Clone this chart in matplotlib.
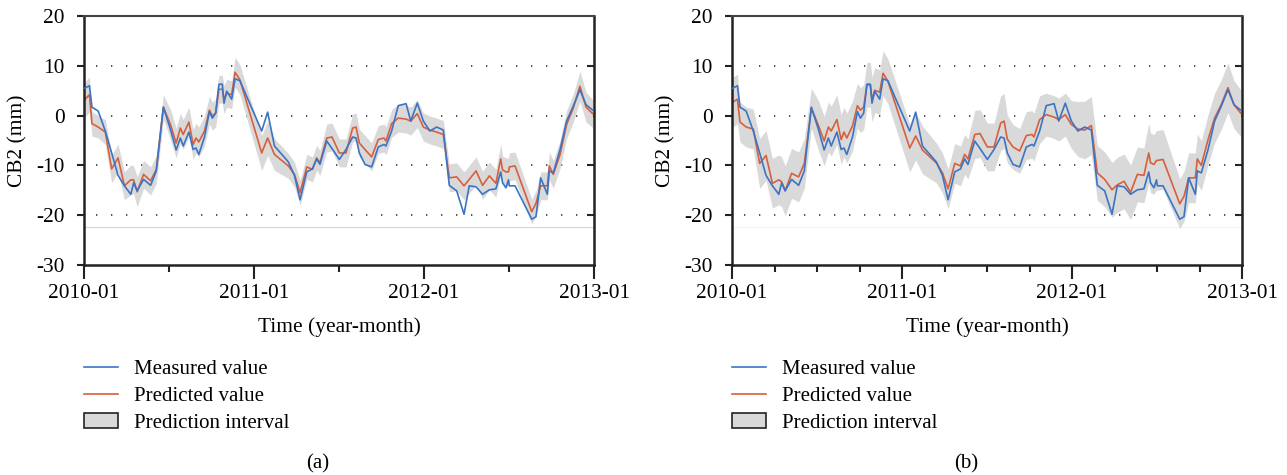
import matplotlib
matplotlib.use("Agg")
import matplotlib.pyplot as plt
from matplotlib.lines import Line2D
from matplotlib.patches import Patch
from matplotlib.ticker import MultipleLocator

plt.rcParams['font.family'] = ['Liberation Serif', 'DejaVu Serif']
plt.rcParams['axes.unicode_minus'] = False

# months since 2010-01
months = [0.05, 0.38, 0.56, 1.0, 1.5, 1.95, 2.4, 2.85, 3.3, 3.5,
          3.75, 4.2, 4.7, 5.1, 5.6, 6.1, 6.5, 6.8, 7.0, 7.4,
          7.7, 7.9, 8.1, 8.5, 8.85, 9.06, 9.29, 9.52, 9.76, 9.88,
          10.07, 10.42, 10.66, 11.0, 12.54, 12.96, 13.44, 14.42, 14.85, 15.25,
          15.72, 16.12, 16.42, 16.65, 17.13, 17.5, 18.02, 18.49, 18.96, 19.2,
          19.43, 19.83, 20.3, 20.77, 21.17, 21.31, 21.71, 22.18, 22.73, 23.06,
          23.52, 23.95, 24.41, 24.89, 25.36, 25.78, 26.3, 26.82, 27.19, 27.67,
          28.13, 28.61, 29.07, 29.41, 29.54, 29.78, 29.96, 30.02, 30.42, 31.6,
          31.9, 32.23, 32.7, 32.84, 33.12, 33.6, 34.06, 34.53, 35.0, 35.43,
          35.9]

measured = [5.5, 6.0, 1.7, 0.9, -3.1, -7.5, -12.0, -14.1, -15.8, -13.5,
            -15.1, -12.8, -14.0, -11.1, 1.7, -2.8, -6.9, -4.5, -6.1, -3.3,
            -6.8, -6.5, -7.8, -4.3, 0.8, -0.5, 0.5, 6.3, 6.3, 2.5,
            4.9, 3.3, 7.4, 7.0, -3.1, 0.7, -6.1, -9.3, -12.0, -16.9,
            -11.3, -10.7, -8.7, -9.8, -5.1, -6.6, -8.8, -6.8, -4.3, -4.5,
            -7.5, -9.8, -10.3, -6.3, -5.8, -6.1, -3.1, 2.0, 2.4, -1.1,
            2.5, -1.1, -3.1, -2.3, -2.9, -14.0, -15.1, -19.8, -14.1, -14.3,
            -15.8, -14.9, -14.7, -11.3, -13.5, -14.5, -12.9, -14.1, -14.1, -20.8,
            -20.3, -12.5, -15.8, -11.1, -11.5, -6.8, -1.1, 1.9, 5.2, 2.2,
            1.1]

predicted_a = [3.2, 4.2, -1.6, -2.3, -3.3, -10.7, -8.5, -14.1, -12.9, -12.9,
               -15.3, -11.8, -13.1, -10.8, 1.7, -1.8, -5.5, -2.5, -3.8, -1.3,
               -5.8, -4.5, -5.3, -3.1, 1.1, -0.1, 0.5, 5.3, 5.3, 3.2,
               4.5, 4.2, 8.7, 7.2, -7.5, -4.5, -7.8, -10.1, -11.8, -15.5,
               -10.3, -10.8, -8.5, -9.5, -4.5, -4.3, -7.5, -7.5, -2.5, -2.3,
               -5.5, -6.8, -8.3, -4.8, -4.5, -5.1, -1.6, -0.5, -0.7, -1.1,
               0.4, -2.3, -2.9, -3.3, -3.8, -12.5, -12.3, -14.1, -12.8, -11.1,
               -14.0, -12.1, -13.6, -8.7, -10.9, -11.3, -11.3, -10.3, -10.1, -19.3,
               -17.6, -14.1, -14.1, -10.1, -11.8, -7.8, -1.8, 1.5, 5.9, 1.7,
               0.4]

predicted_b = [2.7, 3.3, -1.3, -2.3, -2.7, -9.6, -8.0, -13.6, -12.9, -13.3,
               -15.1, -11.6, -12.3, -9.6, 1.5, -2.0, -5.1, -2.3, -3.1, -0.8,
               -4.8, -3.3, -4.5, -2.1, 2.0, 1.1, 1.7, 6.2, 6.2, 3.2,
               5.1, 4.7, 8.5, 6.9, -6.5, -4.1, -6.9, -9.5, -11.5, -14.7,
               -9.6, -10.1, -7.8, -8.7, -3.8, -3.6, -6.3, -6.3, -1.5, -1.1,
               -4.7, -6.3, -7.1, -4.0, -3.8, -4.3, -0.8, 0.2, -0.3, -0.8,
               0.2, -1.8, -2.7, -2.9, -2.0, -11.5, -12.8, -14.9, -13.9, -13.2,
               -15.4, -11.8, -12.0, -7.5, -9.5, -9.8, -9.0, -9.0, -8.8, -17.7,
               -16.2, -12.5, -12.5, -8.7, -10.0, -4.8, -0.5, 2.2, 5.6, 2.2,
               0.5]

# half widths of the prediction interval
half_a = [3.5, 3.5, 2.5, 2.2, 2.5, 2.8, 2.8, 2.8, 3.0, 2.8,
          3.0, 2.8, 2.8, 2.8, 2.5, 3.0, 3.0, 3.0, 3.0, 3.0,
          3.0, 3.0, 3.0, 3.0, 2.8, 2.8, 2.8, 2.8, 2.8, 2.8,
          2.8, 2.8, 3.0, 3.0, 3.5, 3.5, 3.2, 2.5, 2.5, 2.5,
          2.5, 2.5, 2.5, 2.5, 2.8, 2.8, 2.8, 2.8, 2.8, 2.8,
          2.8, 2.8, 2.8, 2.8, 2.8, 2.8, 2.8, 2.8, 2.8, 2.8,
          2.8, 2.8, 2.8, 2.8, 2.8, 2.8, 2.8, 2.8, 2.8, 2.8,
          2.8, 2.8, 2.8, 3.0, 2.8, 2.8, 2.8, 2.8, 2.8, 2.5,
          2.5, 2.8, 2.8, 2.8, 2.8, 2.8, 2.8, 2.8, 3.0, 3.0,
          2.8]

half_b = [5.0, 5.0, 4.0, 4.0, 4.0, 5.0, 5.0, 5.0, 5.0, 5.0,
          5.0, 5.0, 5.0, 5.0, 4.0, 5.0, 5.0, 5.0, 5.0, 5.0,
          5.0, 5.0, 5.0, 5.0, 4.5, 4.5, 4.5, 4.5, 4.5, 4.5,
          4.5, 4.5, 4.5, 4.5, 4.8, 4.8, 4.8, 4.0, 4.0, 4.0,
          4.0, 4.0, 4.0, 4.0, 4.8, 4.8, 4.8, 4.8, 5.5, 5.5,
          4.8, 4.5, 4.5, 4.8, 4.8, 4.8, 4.8, 4.3, 4.3, 4.3,
          4.3, 4.8, 5.5, 5.8, 5.8, 5.5, 5.5, 5.5, 5.5, 5.5,
          5.5, 5.5, 5.5, 6.0, 6.0, 6.0, 6.0, 6.0, 6.0, 5.0,
          5.0, 5.0, 5.0, 5.0, 5.0, 5.0, 5.0, 5.0, 5.0, 4.8,
          4.7]

year_ticks = [0, 12, 24, 36]
year_labels = ["2010-01", "2011-01", "2012-01", "2013-01"]
grid_levels = [10, 0, -10, -20]

BLUE = "#3b74c5"
RED = "#d6603c"
BAND = "#d9d9d9"
INK = "#222222"


def draw_panel(ax, predicted, half, minor_step, floor_color):
    lower = [p - h for p, h in zip(predicted, half)]
    upper = [p + h for p, h in zip(predicted, half)]
    ax.fill_between(months, lower, upper, color=BAND, lw=0, zorder=1)
    ax.axhline(-22.3, color=floor_color, lw=0.9, zorder=0.5)
    for g in grid_levels:
        ax.plot([0.85, 36], [g, g], color="#333333", lw=1.2,
                linestyle=(0, (0.8, 8.2)), zorder=0.8)
    ax.plot(months, predicted, color=RED, lw=1.2, zorder=2)
    ax.plot(months, measured, color=BLUE, lw=1.2, zorder=3)

    ax.set_xlim(0, 36)
    ax.set_ylim(-30, 20)
    ax.set_yticks([20, 10, 0, -10, -20, -30])
    ax.set_xticks(year_ticks)
    ax.set_xticklabels(year_labels)
    ax.xaxis.set_minor_locator(MultipleLocator(minor_step))
    ax.tick_params(axis="x", which="major", length=10, width=1.5, pad=4,
                   labelsize=15.4, color=INK)
    ax.tick_params(axis="x", which="minor", length=5, width=1.5, color=INK)
    ax.tick_params(axis="y", which="major", length=5, width=1.5, pad=9,
                   labelsize=15.4, color=INK)
    for side in ["left", "bottom", "right"]:
        ax.spines[side].set_linewidth(1.8)
        ax.spines[side].set_color(INK)
    ax.spines["top"].set_linewidth(1.5)
    ax.spines["top"].set_color("#444444")

    # inward ticks on the right edge, no labels
    right = ax.secondary_yaxis("right")
    right.set_yticks(grid_levels)
    right.tick_params(direction="in", length=5, width=1.5, color=INK,
                      labelright=False)
    right.spines["right"].set_visible(False)

    ax.set_xlabel("Time (year-month)", fontsize=15.4, labelpad=10)
    ax.set_ylabel("CB2 (mm)", fontsize=15.4, labelpad=6)

    handles = [Line2D([], [], color=BLUE, lw=1.2),
               Line2D([], [], color=RED, lw=1.2),
               Patch(facecolor=BAND, edgecolor=INK, lw=1.2)]
    ax.legend(handles, ["Measured value", "Predicted value", "Prediction interval"],
              loc="upper left", bbox_to_anchor=(0, -0.38), frameon=False,
              fontsize=15, handlelength=1.65, handletextpad=0.75,
              labelspacing=0.34, borderpad=0, borderaxespad=0)


fig = plt.figure(figsize=(12.87, 4.75), dpi=100)
ax_a = fig.add_axes([0.0653, 0.4421, 0.3963, 0.5242])
ax_b = fig.add_axes([0.5688, 0.4421, 0.3963, 0.5242])

draw_panel(ax_a, predicted_a, half_a, 6, "#d8d8d8")
draw_panel(ax_b, predicted_b, half_b, 3, "#f3f3f3")

fig.text(0.247, 0.014, "(a)", ha="center", fontsize=15)
fig.text(0.751, 0.014, "(b)", ha="center", fontsize=15)

fig.savefig("out.png", dpi=100)
